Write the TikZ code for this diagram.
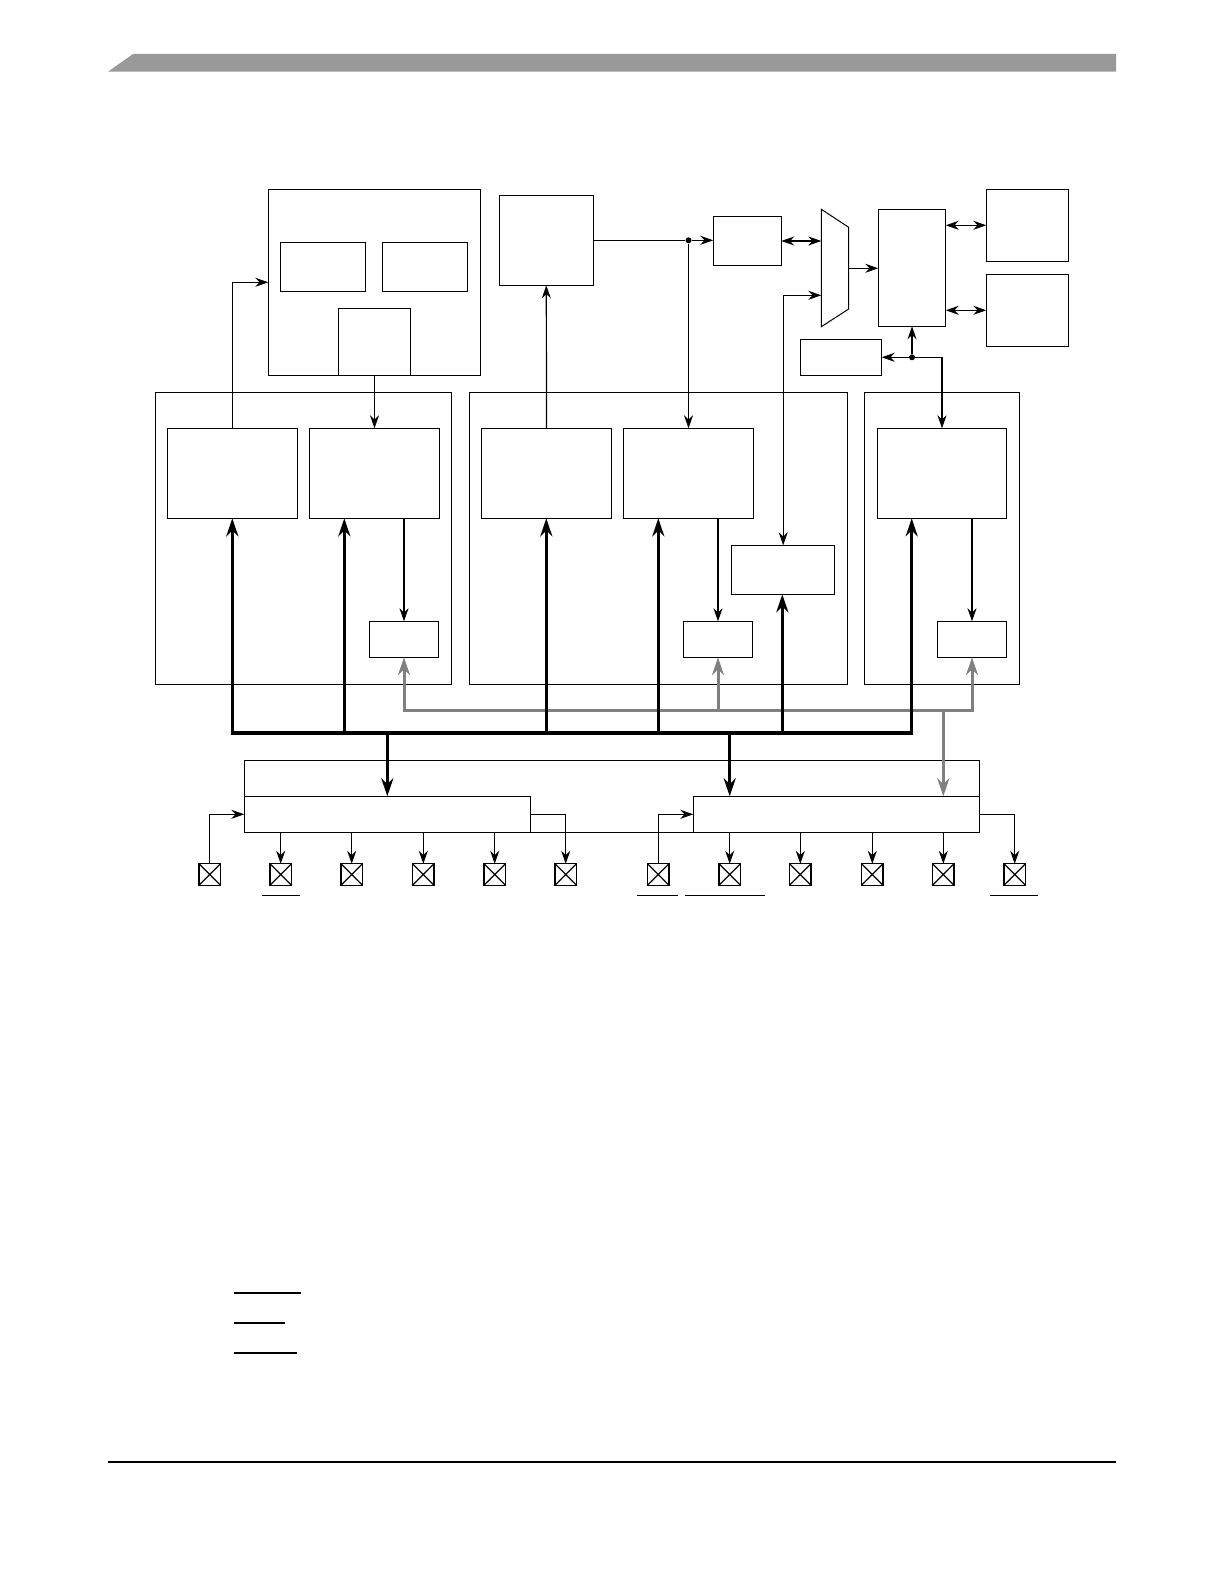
\documentclass[tikz,border=0pt]{standalone}
\usetikzlibrary{arrows.meta}
\begin{document}
\begin{tikzpicture}[
    x=1pt, y=-1pt,
    blk/.style={draw, line width=1.2pt, inner sep=0pt, outer sep=0pt},
    sarr/.style={line width=1.2pt, -{Stealth[length=13pt,width=9pt]}},
    darr/.style={line width=1.2pt, {Stealth[length=13pt,width=9pt]}-{Stealth[length=13pt,width=9pt]}},
    busline/.style={line width=3.3pt, line cap=rect},
    busarr/.style={line width=3.3pt, -{Stealth[length=18pt,width=12pt]}},
    gbus/.style={line width=3pt, draw=black!50, line cap=rect},
    gbusarr/.style={line width=3pt, draw=black!50, -{Stealth[length=18pt,width=12pt]}},
    pad/.style={draw, line width=1.2pt, minimum size=21.4pt, inner sep=0pt, outer sep=0pt,
      path picture={\draw (path picture bounding box.south west) -- (path picture bounding box.north east)
                          (path picture bounding box.north west) -- (path picture bounding box.south east);}},
    dot/.style={circle, fill, inner sep=0pt, minimum size=6pt}
  ]
  \useasboundingbox (0,0) rectangle (1224,1584);

  % page header and footer
  \fill[black!40] (108,71.7) -- (133,54) -- (1116,54) -- (1116,71.7) -- cycle;
  \draw[line width=1.2pt] (108,1462) -- (1116,1462);

  % top blocks
  \node[blk, minimum width=212pt, minimum height=186pt] (sys) at (374.3,282.3) {};
  \node[blk, minimum width=85.4pt, minimum height=49pt] (sysa) at (323,266.8) {};
  \node[blk, minimum width=85.4pt, minimum height=49pt] (sysb) at (425,266.8) {};
  \node[blk, minimum width=71.6pt, minimum height=67pt] (sysc) at (374.5,341.8) {};
  \node[blk, minimum width=94pt, minimum height=90pt] (clk) at (546.3,240.3) {};
  \node[blk, minimum width=68pt, minimum height=49pt] (pll) at (747.3,240.8) {};
  \node[blk, minimum width=67.4pt, minimum height=117pt] (sel) at (912,267.8) {};
  \node[blk, minimum width=82.4pt, minimum height=72pt] (outa) at (1027.5,225.3) {};
  \node[blk, minimum width=82.4pt, minimum height=72pt] (outb) at (1027.5,310.3) {};
  \node[blk, minimum width=81.4pt, minimum height=36pt] (div) at (841,357.3) {};

  % multiplexer
  \coordinate (mx1) at (821.3,209.3);
  \coordinate (mx2) at (848.7,227.3);
  \coordinate (mx3) at (848.7,309);
  \coordinate (mx4) at (821.3,326.7);
  \draw[line width=1pt] (mx1) -- (mx2) -- (mx3) -- (mx4) -- cycle;
  \coordinate (mxin1) at (821.3,241);
  \coordinate (mxin2) at (821.3,295.3);
  \coordinate (mxout) at (848.7,268.3);

  % module 1
  \node[blk, minimum width=296.4pt, minimum height=291.6pt] (mod1) at (303.5,538.5) {};
  \node[blk, minimum width=130.4pt, minimum height=90pt] (m1a) at (232.5,473.3) {};
  \node[blk, minimum width=130.4pt, minimum height=90pt] (m1b) at (374.5,473.3) {};
  \node[blk, minimum width=69.4pt, minimum height=36pt] (m1c) at (404,639.3) {};

  % module 2
  \node[blk, minimum width=378pt, minimum height=291.6pt] (mod2) at (658.3,538.5) {};
  \node[blk, minimum width=130.4pt, minimum height=90pt] (m2a) at (546.5,473.3) {};
  \node[blk, minimum width=130.4pt, minimum height=90pt] (m2b) at (688.5,473.3) {};
  \node[blk, minimum width=69.4pt, minimum height=36pt] (m2c) at (718,639.3) {};
  \node[blk, minimum width=103pt, minimum height=49pt] (m2d) at (783.2,569.8) {};

  % module 3
  \node[blk, minimum width=155pt, minimum height=291.6pt] (mod3) at (941.8,538.5) {};
  \node[blk, minimum width=129.4pt, minimum height=90pt] (m3a) at (942,473.3) {};
  \node[blk, minimum width=69.4pt, minimum height=36pt] (m3c) at (972,639.3) {};

  % port blocks
  \node[blk, minimum width=735pt, minimum height=72pt] (io) at (611.8,796.3) {};
  \node[blk, minimum width=286pt, minimum height=36pt] (ioa) at (387.3,814.3) {};
  \node[blk, minimum width=286pt, minimum height=36pt] (iob) at (836.3,814.3) {};

  % pins
  \foreach \x [count=\i] in {209.7,280.7,351.7,423.3,494.7,565.7,658.3,729.7,800.3,872.3,943.3,1014.7}
    \node[pad] (p\i) at (\x,874.5) {};

  % thin connections
  \draw[sarr] (m1a.north) |- (sys.west);
  \draw[sarr] (sysc.south) -- (m1b.north);
  \draw[sarr] (m1c.north |- m1b.south) -- (m1c.north);
  \draw[sarr] (m2a.north) -- (clk.south);
  \node[dot] (j1) at (m2b.north |- clk.east) {};
  \draw[line width=1.2pt] (clk.east) -- (j1);
  \draw[sarr] (j1) -- (j1 -| pll.west);
  \draw[sarr] (j1) -- (m2b.north);
  \draw[darr] (pll.east |- mxin1) -- (mxin1);
  \draw[darr] (mxin2) -| (m2d.north);
  \draw[sarr] (mxout) -- (mxout -| sel.west);
  \draw[darr] (sel.east |- outa.west) -- (outa.west);
  \draw[darr] (sel.east |- outb.west) -- (outb.west);
  \node[dot] (j2) at (sel.south |- div.east) {};
  \draw[sarr] (j2) -- (sel.south);
  \draw[sarr] (j2) -- (div.east);
  \draw[sarr] (j2) -| (m3a.north);
  \draw[sarr] (m2c.north |- m2b.south) -- (m2c.north);
  \draw[sarr] (m3c.north |- m3a.south) -- (m3c.north);

  % grey bus
  \coordinate (gy) at (0,710.7);
  \draw[gbus] (m1c.south |- gy) -- (m3c.south |- gy);
  \foreach \n in {m1c,m2c,m3c}
    \draw[gbusarr] (\n.south |- gy) -- (\n.south);
  \coordinate (gtap) at (943.3,710.7);
  \draw[gbusarr] (gtap) -- (gtap |- iob.north);

  % black bus
  \coordinate (by) at (0,733);
  \draw[busline] (232.3,733) -- (911.7,733);
  \foreach \x/\n in {232.3/m1a,344.3/m1b,546.3/m2a,658.3/m2b,782.3/m2d,911.7/m3a}
    \draw[busarr] (\x,733) -- (\n.south -| \x,0);
  \draw[busarr] (ioa.north |- by) -- (ioa.north);
  \draw[busarr] (729.7,733) -- (iob.north -| 729.7,0);

  % pin connections
  \draw[sarr] (p1.north) |- (ioa.west);
  \foreach \i in {2,...,5}
    \draw[sarr] (ioa.south -| p\i.north) -- (p\i.north);
  \draw[sarr] (ioa.east) -| (p6.north);
  \draw[sarr] (p7.north) |- (iob.west);
  \foreach \i in {8,...,11}
    \draw[sarr] (iob.south -| p\i.north) -- (p\i.north);
  \draw[sarr] (iob.east) -| (p12.north);

  % overbars under pins
  \draw[line width=1pt] (262.3,895) -- (299.7,895);
  \draw[line width=1pt] (637,895) -- (677.7,895);
  \draw[line width=1pt] (685.3,895) -- (764.7,895);
  \draw[line width=1pt] (990.3,895) -- (1037.7,895);

  % legend strokes
  \draw[line width=2pt] (234,1293) -- (300.7,1293);
  \draw[line width=2pt] (234,1322.7) -- (285,1322.7);
  \draw[line width=2pt] (234,1352.7) -- (297,1352.7);
\end{tikzpicture}
\end{document}
